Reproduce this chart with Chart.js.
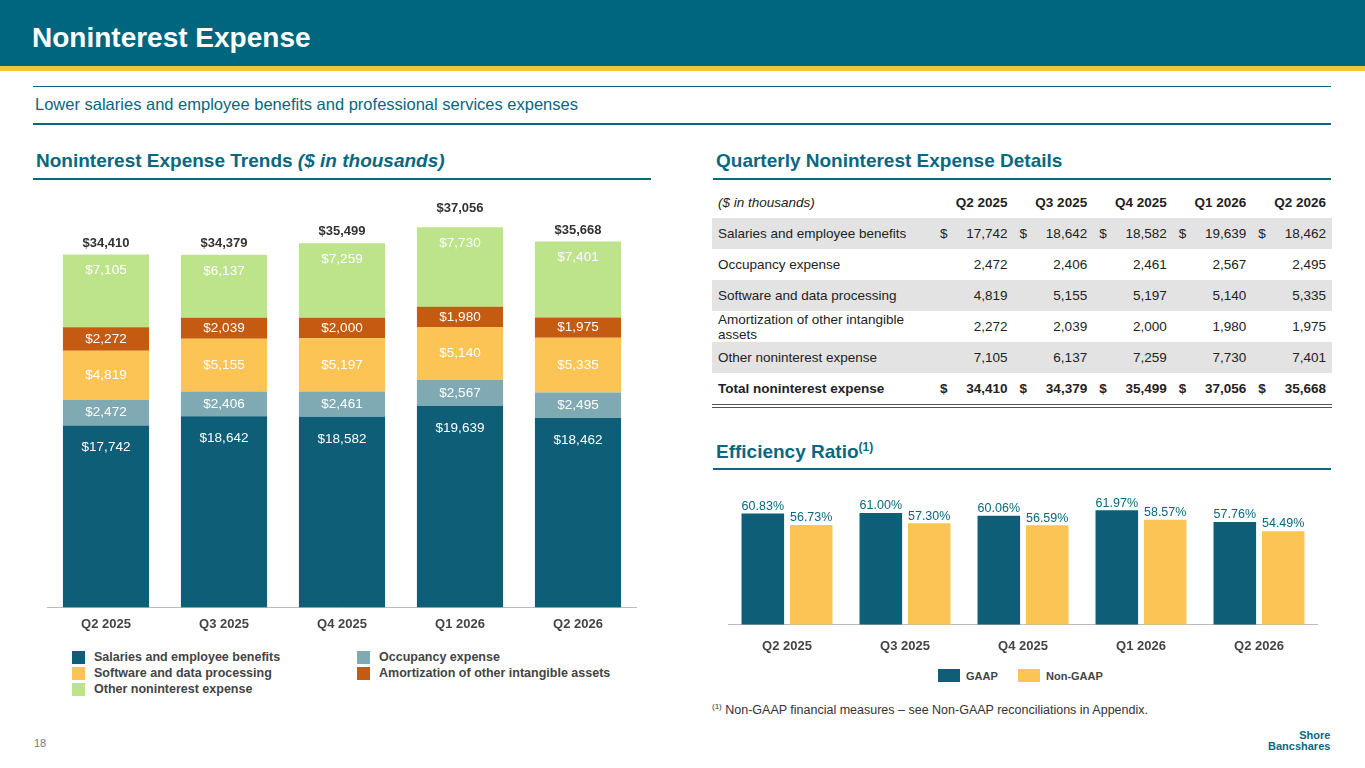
<!DOCTYPE html>
<html><head><meta charset="utf-8">
<script src="https://cdn.jsdelivr.net/npm/chart.js@4"></script>
<style>
body{margin:0;width:1365px;height:768px;position:relative;font-family:Arial,"Liberation Sans",sans-serif;background:#fff;overflow:hidden}
.abs{position:absolute}
#hdr{left:0;top:0;width:1365px;height:66px;background:#006680}
#hdr span{position:absolute;left:32px;top:22px;color:#fff;font-weight:bold;font-size:28px}
#ybar{left:0;top:66px;width:1365px;height:5px;background:#F5C342}
.hl{height:2px;background:#0A6780}
.sec{color:#0A6780;font-weight:bold;font-size:19px}
table{border-collapse:collapse;font-size:13.5px;color:#222}
td{height:31px;padding:0 6px}
.g{background:#e3e3e3}
.lg{font-size:12.5px;font-weight:bold;color:#444;display:flex;align-items:center}
.sw{width:13px;height:13px;display:inline-block;margin-right:9px}
</style></head><body>
<div id="hdr" class="abs"><span>Noninterest Expense</span></div>
<div id="ybar" class="abs"></div>
<div class="abs hl" style="left:33px;top:86px;width:1298px;height:1px"></div>
<div class="abs" style="left:35px;top:95px;font-size:16.5px;color:#0A6780">Lower salaries and employee benefits and professional services expenses</div>
<div class="abs hl" style="left:33px;top:123px;width:1298px"></div>
<div class="abs sec" style="left:36px;top:150px">Noninterest Expense Trends <i>($ in thousands)</i></div>
<div class="abs hl" style="left:33px;top:178px;width:618px"></div>
<div class="abs sec" style="left:716px;top:150px">Quarterly Noninterest Expense Details</div>
<div class="abs hl" style="left:713px;top:178px;width:618px"></div>
<div class="abs sec" style="left:716px;top:440px">Efficiency Ratio<sup style="font-size:12px">(1)</sup></div>
<div class="abs hl" style="left:713px;top:468px;width:618px"></div>
<div class="abs" style="left:47px;top:190px;width:590px;height:443px"><canvas id="c1"></canvas></div>
<div class="abs" style="left:728px;top:488px;width:590px;height:172px"><canvas id="c2"></canvas></div>
<div class="abs" id="tbl" style="left:712px;top:187px;width:620px"></div>
<div class="abs lg" style="left:72px;top:650px"><span class="sw" style="background:#0E5E78"></span>Salaries and employee benefits</div>
<div class="abs lg" style="left:72px;top:666px"><span class="sw" style="background:#FBC455"></span>Software and data processing</div>
<div class="abs lg" style="left:72px;top:682px"><span class="sw" style="background:#BDE38B"></span>Other noninterest expense</div>
<div class="abs lg" style="left:357px;top:650px"><span class="sw" style="background:#7FAAB4"></span>Occupancy expense</div>
<div class="abs lg" style="left:357px;top:666px"><span class="sw" style="background:#C55A11"></span>Amortization of other intangible assets</div>
<div class="abs lg" style="left:938px;top:669px;font-size:11px"><span class="sw" style="background:#0E5E78;width:22px;margin-right:6px"></span>GAAP</div>
<div class="abs lg" style="left:1018px;top:669px;font-size:11px"><span class="sw" style="background:#FBC455;width:22px;margin-right:6px"></span>Non-GAAP</div>
<div class="abs" style="left:712px;top:702px;font-size:12.5px;color:#333"><sup style="font-size:8px">(1)</sup> Non-GAAP financial measures – see Non-GAAP reconciliations in Appendix.</div>
<div class="abs" style="left:34px;top:737px;font-size:11px;color:#777">18</div>
<div class="abs" style="left:1268px;top:730px;font-size:11px;font-weight:bold;color:#0A6780;line-height:11px;text-align:right">Shore<br>Bancshares</div>
<script>
const quarters=["Q2 2025","Q3 2025","Q4 2025","Q1 2026","Q2 2026"];
const salaries=[17742,18642,18582,19639,18462];
const occupancy=[2472,2406,2461,2567,2495];
const software=[4819,5155,5197,5140,5335];
const amort=[2272,2039,2000,1980,1975];
const other=[7105,6137,7259,7730,7401];
const totals=[34410,34379,35499,37056,35668];
const gaap=[60.83,61.00,60.06,61.97,57.76];
const nongaap=[56.73,57.30,56.59,58.57,54.49];

const fmt=v=>v.toLocaleString('en-US');
let h='<table style="width:620px"><tr style="font-weight:bold"><td style="font-weight:normal;font-style:italic">($ in thousands)</td>'+quarters.map(q=>'<td colspan=2 style="text-align:right">'+q+'</td>').join('')+'</tr>';
const rows=[["Salaries and employee benefits",salaries,true,true],["Occupancy expense",occupancy,false,false],["Software and data processing",software,true,false],["Amortization of other intangible assets",amort,false,false],["Other noninterest expense",other,true,false]];
rows.forEach(r=>{h+='<tr class="'+(r[2]?'g':'')+'"><td style="width:210px;line-height:15px">'+r[0]+'</td>'+r[1].map(v=>'<td style="padding:0 0 0 6px">'+(r[3]?'$':'')+'</td><td style="text-align:right">'+fmt(v)+'</td>').join('')+'</tr>';});
h+='<tr style="font-weight:bold;border-bottom:4px double #555"><td>Total noninterest expense</td>'+totals.map(v=>'<td style="padding:0 0 0 6px">$</td><td style="text-align:right">'+fmt(v)+'</td>').join('')+'</tr></table>';
document.getElementById('tbl').innerHTML=h;

const lbl={id:'lbl',afterDatasetsDraw(ch,a,o){const c=ch.ctx;c.save();c.textAlign='center';
 ch.data.datasets.forEach((ds,i)=>{ch.getDatasetMeta(i).data.forEach((b,j)=>{
  const v=ds.data[j];
  if(o.mode==='stack'){c.fillStyle='#fff';c.font='13.5px Arial';c.textBaseline='middle';
   let y=i===0?b.y+22:(i===4?b.y+16:(b.y+b.base)/2);c.fillText('$'+fmt(v),b.x,y);
   if(i===4){c.fillStyle='#333';c.font='bold 13px Arial';c.textBaseline='bottom';c.fillText('$'+fmt(totals[j]),b.x,b.y-(j===3?12:5));}}
  else{c.fillStyle='#0A6780';c.font='12.5px Arial';c.textBaseline='bottom';c.fillText(v.toFixed(2)+'%',b.x,b.y-1);}
 });});c.restore();}};
const sc=[["#0E5E78",salaries],["#7FAAB4",occupancy],["#FBC455",software],["#C55A11",amort],["#BDE38B",other]];
new Chart(document.getElementById('c1'),{type:'bar',plugins:[lbl],
 data:{labels:quarters,datasets:sc.map(s=>({data:s[1],backgroundColor:s[0],barPercentage:0.73,categoryPercentage:1}))},
 options:{animation:false,responsive:true,maintainAspectRatio:false,layout:{padding:0},
 plugins:{legend:{display:false},tooltip:{enabled:false},lbl:{mode:'stack'}},
 scales:{x:{stacked:true,grid:{display:false},border:{color:'#bbb'},ticks:{color:'#444',font:{size:13,weight:'bold'},padding:1}},
 y:{stacked:true,display:false,min:0,max:40700}}}});
new Chart(document.getElementById('c2'),{type:'bar',plugins:[lbl],
 data:{labels:quarters,datasets:[{data:gaap,backgroundColor:'#0E5E78'},{data:nongaap,backgroundColor:'#FBC455'}]},
 options:{animation:false,responsive:true,maintainAspectRatio:false,datasets:{bar:{barPercentage:0.88,categoryPercentage:0.82}},
 plugins:{legend:{display:false},tooltip:{enabled:false},lbl:{mode:'ratio'}},
 scales:{x:{grid:{display:false},border:{color:'#bbb'},ticks:{color:'#444',font:{size:13,weight:'bold'},padding:6}},
 y:{display:false,min:21,max:70}}}});
</script></body></html>
